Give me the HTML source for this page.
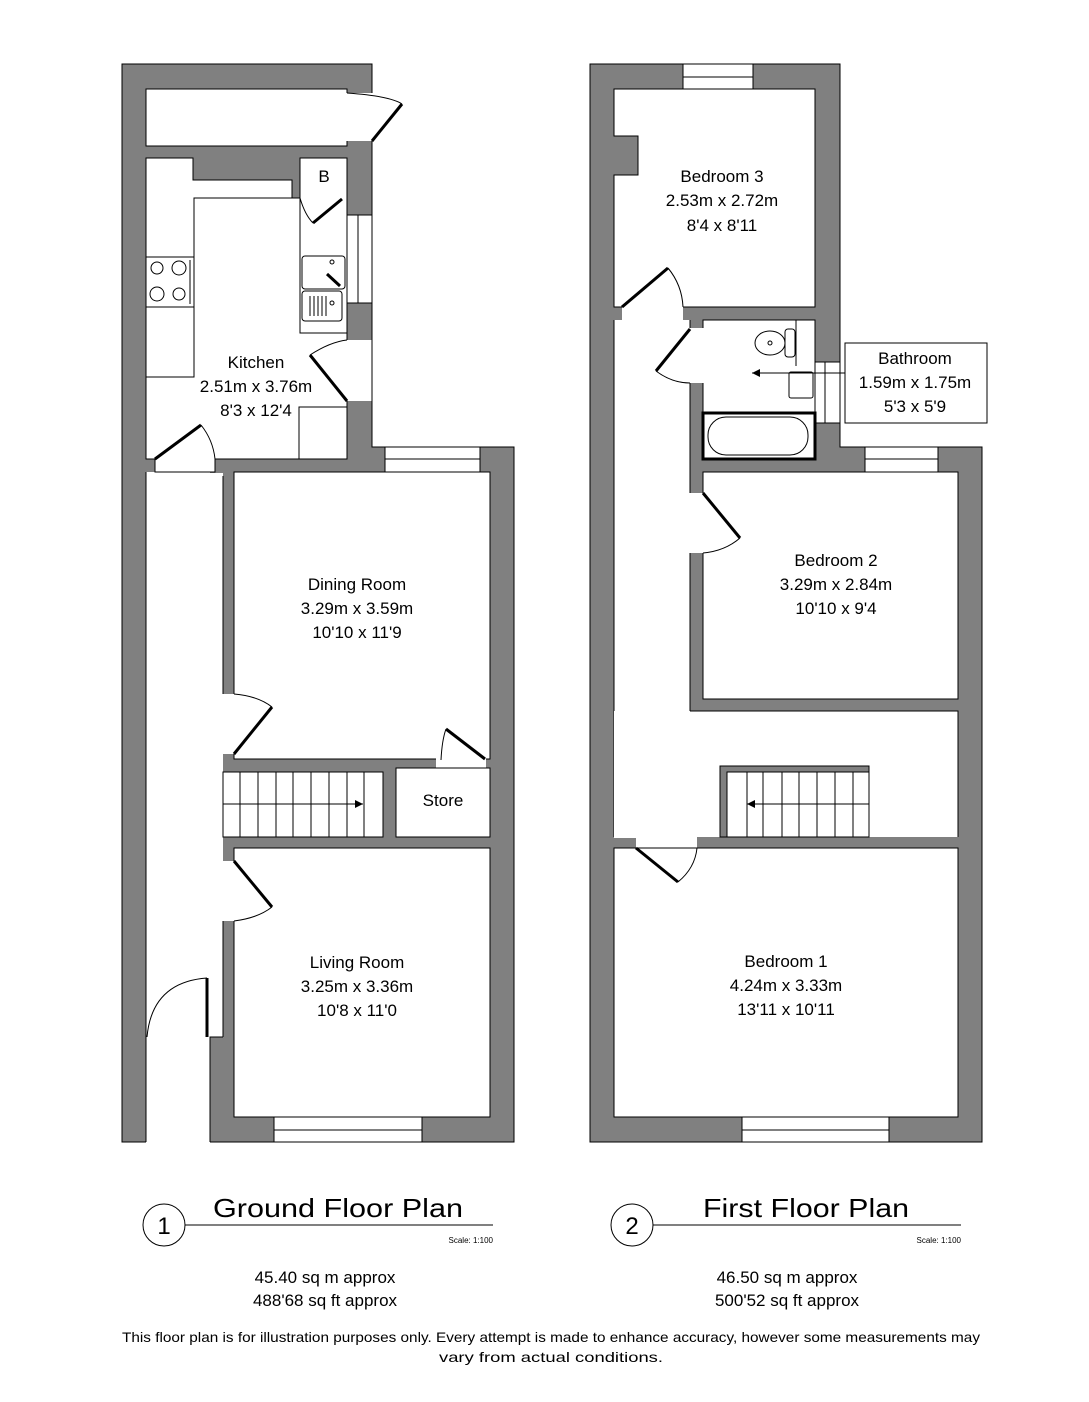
<!DOCTYPE html>
<html><head><meta charset="utf-8"><style>
html,body{margin:0;padding:0;background:#fff}
svg{display:block}
text{font-family:"Liberation Sans",sans-serif;fill:#000}
</style></head><body>
<svg width="1089" height="1402" viewBox="0 0 1089 1402" xmlns="http://www.w3.org/2000/svg">
<g fill="#808080" stroke="none">
<rect x="122" y="64" width="250" height="408"/>
<rect x="122" y="64" width="24" height="1078"/>
<rect x="210" y="447" width="304" height="695"/>
<rect x="590" y="64" width="250" height="408"/>
<rect x="590" y="64" width="24" height="1078"/>
<rect x="590" y="447" width="392" height="695"/>
</g>
<g fill="#fff" stroke="#000" stroke-width="1">
<rect x="146" y="89" width="201" height="57"/>
<rect x="346" y="93" width="27" height="48" stroke="none"/>
<path d="M146 158 H193 V180 H292 V198 H300 V158 H347 V459 H215 V472 H155 V459 H146 Z"/>
<rect x="347" y="215" width="25" height="88"/>
<line x1="358" y1="215" x2="358" y2="303"/>
<rect x="346" y="340" width="27" height="61" stroke="none"/>
<rect x="146" y="473" width="77" height="564" stroke="none"/>
<rect x="146" y="1036" width="64" height="107" stroke="none"/>
<line x1="146" y1="472" x2="146" y2="1142"/>
<line x1="223" y1="476" x2="223" y2="694"/>
<line x1="223" y1="921" x2="223" y2="1037"/>
<path d="M223 1037 H210 V1142" fill="none"/>
<rect x="234" y="472" width="256" height="287"/>
<rect x="222" y="694" width="13" height="60" stroke="none"/>
<rect x="385" y="447" width="95" height="25"/>
<line x1="385" y1="459" x2="480" y2="459"/>
<rect x="436" y="758" width="50" height="14" stroke="none"/>
<rect x="223" y="772" width="160" height="65"/>
<rect x="396" y="768" width="94" height="69"/>
<rect x="234" y="848" width="256" height="269"/>
<rect x="222" y="861" width="13" height="60" stroke="none"/>
<rect x="274" y="1117" width="148" height="25"/>
<line x1="274" y1="1130" x2="422" y2="1130"/>
<rect x="683" y="64" width="70" height="25"/>
<line x1="683" y1="77" x2="753" y2="77"/>
<path d="M614 89 H815 V307 H614 V175 H638 V136 H614 Z"/>
<rect x="622" y="306" width="61" height="15" stroke="none"/>
<rect x="614" y="320" width="76" height="518" stroke="none"/>
<line x1="614" y1="320" x2="614" y2="837"/>
<line x1="690" y1="320" x2="690" y2="328"/>
<line x1="690" y1="383" x2="690" y2="711"/>
<rect x="703" y="320" width="112" height="139"/>
<rect x="689" y="328" width="15" height="55" stroke="none"/>
<rect x="815" y="362" width="25" height="61"/>
<line x1="825" y1="362" x2="825" y2="423"/>
<rect x="865" y="447" width="73" height="25"/>
<line x1="865" y1="459" x2="938" y2="459"/>
<rect x="703" y="472" width="255" height="227"/>
<rect x="689" y="493" width="15" height="60" stroke="none"/>
<rect x="614" y="711" width="344" height="126" stroke="none"/>
<path d="M690 711 H958 V837" fill="none"/>
<rect x="720" y="766" width="149" height="71" fill="#808080"/>
<rect x="727" y="772" width="142" height="65"/>
<rect x="636" y="836" width="61" height="13" stroke="none"/>
<rect x="614" y="848" width="344" height="269"/>
<rect x="742" y="1117" width="147" height="25"/>
<line x1="742" y1="1130" x2="889" y2="1130"/>
</g>
<g fill="none" stroke="#000" stroke-width="1">
<path d="M372 93 V64 H122 V1142 H146"/>
<path d="M372 141 V447 H385 M480 447 H514 V1142 H210"/>
<path d="M683 64 H590 V1142 H982 V447 H938 M865 447 H840 V423 M840 362 V64 H753"/>
</g>
<g fill="none" stroke="#000" stroke-width="1">
<path d="M146 377 H194 V198 H300 V333 H347"/>
<rect x="146" y="257" width="48" height="50"/>
<circle cx="157" cy="268" r="6"/><circle cx="179" cy="268" r="7"/>
<circle cx="157" cy="294" r="7"/><circle cx="179" cy="294" r="6"/>
<line x1="190" y1="260" x2="190" y2="304"/>
<rect x="302" y="256" width="43" height="33" rx="3"/>
<rect x="302" y="291" width="40" height="30" rx="3"/>
<line x1="310" y1="296" x2="310" y2="316"/><line x1="314" y1="296" x2="314" y2="316"/><line x1="318" y1="296" x2="318" y2="316"/><line x1="322" y1="296" x2="322" y2="316"/><line x1="326" y1="296" x2="326" y2="316"/>
<circle cx="332" cy="262" r="2"/><circle cx="332" cy="303" r="2"/>
<line x1="327" y1="274" x2="340" y2="286" stroke-width="3"/>
<rect x="299" y="407" width="48" height="52"/>
<path d="M347 93 Q390 96 402 104"/>
<path d="M310 355 Q330 342 347 340"/>
<path d="M300 198 Q305 215 313 223"/>
<path d="M201 425 Q213 440 215 459"/>
<path d="M234 694 Q258 696 272 707"/>
<path d="M441 760 Q442 740 446 729"/>
<path d="M234 921 Q258 918 272 907"/>
<path d="M207 978 Q152 982 147 1037"/>
<line x1="240" y1="772" x2="240" y2="837"/><line x1="258" y1="772" x2="258" y2="837"/><line x1="276" y1="772" x2="276" y2="837"/><line x1="293" y1="772" x2="293" y2="837"/><line x1="311" y1="772" x2="311" y2="837"/><line x1="329" y1="772" x2="329" y2="837"/><line x1="347" y1="772" x2="347" y2="837"/><line x1="364" y1="772" x2="364" y2="837"/>
<line x1="223" y1="804" x2="363" y2="804"/>
<path d="M668 268 Q682 285 683 307"/>
<path d="M656 371 Q672 383 690 383"/>
<path d="M740 538 Q725 551 703 553"/>
<path d="M678 882 Q695 868 697 848"/>
<line x1="747" y1="772" x2="747" y2="837"/><line x1="763" y1="772" x2="763" y2="837"/><line x1="782" y1="772" x2="782" y2="837"/><line x1="799" y1="772" x2="799" y2="837"/><line x1="817" y1="772" x2="817" y2="837"/><line x1="835" y1="772" x2="835" y2="837"/><line x1="853" y1="772" x2="853" y2="837"/>
<line x1="747" y1="804" x2="869" y2="804"/>
<ellipse cx="770" cy="343" rx="15" ry="12"/><circle cx="770" cy="343" r="2"/>
<rect x="785" y="329" width="10" height="28" rx="3"/>
<line x1="796" y1="320" x2="796" y2="366"/>
<rect x="789" y="372" width="24" height="26" rx="2"/>
<rect x="703" y="413" width="112" height="46" stroke-width="3"/>
<rect x="708" y="417" width="100" height="38" rx="18"/>
<line x1="752" y1="373" x2="845" y2="373"/>
<rect x="845" y="343" width="142" height="80"/>
</g>
<g stroke="#000" stroke-width="3" fill="none">
<line x1="372" y1="141" x2="402" y2="104"/>
<line x1="313" y1="223" x2="342" y2="199"/>
<line x1="310" y1="355" x2="347" y2="401"/>
<line x1="155" y1="459" x2="201" y2="425"/>
<line x1="234" y1="754" x2="272" y2="707"/>
<line x1="446" y1="729" x2="485" y2="759"/>
<line x1="234" y1="861" x2="272" y2="907"/>
<line x1="207" y1="978" x2="207" y2="1037"/>
<line x1="622" y1="307" x2="668" y2="268"/>
<line x1="656" y1="371" x2="690" y2="329"/>
<line x1="703" y1="493" x2="740" y2="538"/>
<line x1="636" y1="848" x2="678" y2="882"/>
</g>
<polygon points="363,804 355,800 355,808" fill="#000"/>
<polygon points="747,804 755,800 755,808" fill="#000"/>
<polygon points="752,373 760,369 760,377" fill="#000"/>
<g font-size="17" text-anchor="middle">
<text x="324" y="182">B</text>
<text x="256" y="368">Kitchen</text><text x="256" y="392">2.51m x 3.76m</text><text x="256" y="416">8'3 x 12'4</text>
<text x="357" y="590">Dining Room</text><text x="357" y="614">3.29m x 3.59m</text><text x="357" y="638">10'10 x 11'9</text>
<text x="443" y="806">Store</text>
<text x="357" y="968">Living Room</text><text x="357" y="992">3.25m x 3.36m</text><text x="357" y="1016">10'8 x 11'0</text>
<text x="722" y="182">Bedroom 3</text><text x="722" y="206">2.53m x 2.72m</text><text x="722" y="231">8'4 x 8'11</text>
<text x="915" y="364">Bathroom</text><text x="915" y="388">1.59m x 1.75m</text><text x="915" y="412">5'3 x 5'9</text>
<text x="836" y="566">Bedroom 2</text><text x="836" y="590">3.29m x 2.84m</text><text x="836" y="614">10'10 x 9'4</text>
<text x="786" y="967">Bedroom 1</text><text x="786" y="991">4.24m x 3.33m</text><text x="786" y="1015">13'11 x 10'11</text>
</g>
<g fill="none" stroke="#000" stroke-width="1">
<circle cx="164" cy="1225" r="21"/><line x1="185" y1="1225" x2="493" y2="1225"/>
<circle cx="632" cy="1225" r="21"/><line x1="653" y1="1225" x2="961" y2="1225"/>
</g>
<g text-anchor="middle">
<text x="164" y="1234" font-size="24">1</text>
<text x="632" y="1234" font-size="24">2</text>
<text x="338" y="1217" font-size="26" textLength="250" lengthAdjust="spacingAndGlyphs">Ground Floor Plan</text>
<text x="806" y="1217" font-size="26" textLength="206" lengthAdjust="spacingAndGlyphs">First Floor Plan</text>
<text x="325" y="1283" font-size="17">45.40 sq m approx</text>
<text x="325" y="1306" font-size="17">488'68 sq ft approx</text>
<text x="787" y="1283" font-size="17">46.50 sq m approx</text>
<text x="787" y="1306" font-size="17">500'52 sq ft approx</text>
<text x="551" y="1342" font-size="14" textLength="858" lengthAdjust="spacingAndGlyphs">This floor plan is for illustration purposes only. Every attempt is made to enhance accuracy, however some measurements may</text>
<text x="551" y="1362" font-size="14" textLength="224" lengthAdjust="spacingAndGlyphs">vary from actual conditions.</text>
</g>
<g text-anchor="end" font-size="8">
<text x="493" y="1243">Scale: 1:100</text>
<text x="961" y="1243">Scale: 1:100</text>
</g>
</svg>
</body></html>
